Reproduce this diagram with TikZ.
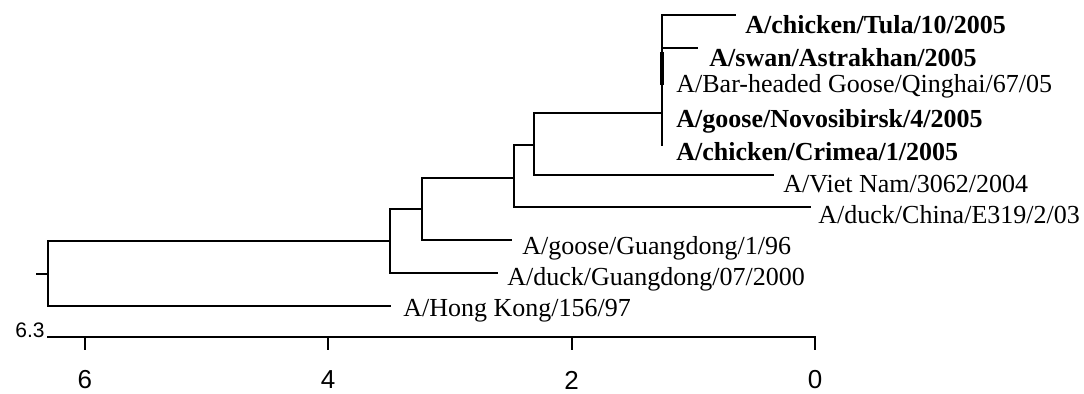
\documentclass[tikz,border=0pt]{standalone}
\usepackage{fontspec}
\setmainfont{Liberation Serif}
\newfontfamily\axisfont{Liberation Sans}
\usetikzlibrary{positioning,calc}
\tikzset{
  branch/.style={line width=1.1pt,line cap=rect},
  leaf/.style={anchor=west,inner sep=0pt,font=\fontsize{13}{15}\selectfont},
  hot/.style={leaf,font=\fontsize{13}{15}\selectfont\bfseries},
  tick/.style={line width=0.9pt},
  ticklabel/.style={anchor=center,inner sep=0pt,font=\axisfont\fontsize{13}{15}\selectfont},
}

\begin{document}
\begin{tikzpicture}[x=0.5pt,y=-0.5pt]
\useasboundingbox (0,0) rectangle (1084,393);

% inner nodes
\coordinate (stub) at (37,274);
\coordinate (root) at (48,274);
\coordinate (n1) at (390,241);
\coordinate (n2) at (422,209);
\coordinate (n3) at (514,178);
\coordinate (n4) at (534,145);
\coordinate (n5) at (662,113);

% tips
\coordinate (hk)   at (390,306);
\coordinate (dgd)  at (497,273);
\coordinate (ggd)  at (511,240);
\coordinate (dch)  at (810,207);
\coordinate (vn)   at (773,175);
\coordinate (tula) at (735,15);
\coordinate (swan) at (697,48);
\coordinate (crim) at (662,145);

\draw[branch] (stub) -- (root);
\draw[branch] (root) |- (n1);
\draw[branch] (root) |- (hk);
\draw[branch] (n1) |- (n2);
\draw[branch] (n1) |- (dgd);
\draw[branch] (n2) |- (n3);
\draw[branch] (n2) |- (ggd);
\draw[branch] (n3) |- (n4);
\draw[branch] (n3) |- (dch);
\draw[branch] (n4) |- (n5);
\draw[branch] (n4) |- (vn);
\draw[branch] (n5) |- (tula);
\draw[branch] (n5) |- (swan);
\draw[branch] (n5) -- (crim);
\draw[line width=2pt] ($(swan-|n5)+(0,4)$) -- ($(swan-|n5)+(0,37)$);

\node[hot]  (tulaL) at (745,25)  {A/chicken/Tula/10/2005};
\node[hot]  (swanL) at (709,58)  {A/swan/Astrakhan/2005};
\node[leaf] (bhgL)  at (676,86)  {A/Bar-headed Goose/Qinghai/67/05};
\node[hot]  (novL)  at (676,121) {A/goose/Novosibirsk/4/2005};
\node[hot]  (crimL) at (676,152) {A/chicken/Crimea/1/2005};
\node[leaf] (vnL)   at (783,184) {A/Viet Nam/3062/2004};
\node[leaf] (dchL)  at (818,215) {A/duck/China/E319/2/03};
\node[leaf] (ggdL)  at (522,248) {A/goose/Guangdong/1/96};
\node[leaf] (dgdL)  at (507,279) {A/duck/Guangdong/07/2000};
\node[leaf] (hkL)   at (403,311) {A/Hong Kong/156/97};

% scale
\coordinate (axL) at (48,337);
\coordinate (axR) at (815,337);
\draw[branch] (axL) -- (axR);
\node[ticklabel,anchor=east,font=\axisfont\fontsize{10.5}{12}\selectfont] (axmax) at (45,330) {6.3};
\foreach \d in {0,2,4,6} {
  \coordinate (t\d) at ({815-121.7*\d},337);
  \draw[tick] (t\d) -- ++(0,13);
  \node[ticklabel] (tl\d) at ($(t\d)+(0,43)$) {\d};
}
\end{tikzpicture}
\end{document}
